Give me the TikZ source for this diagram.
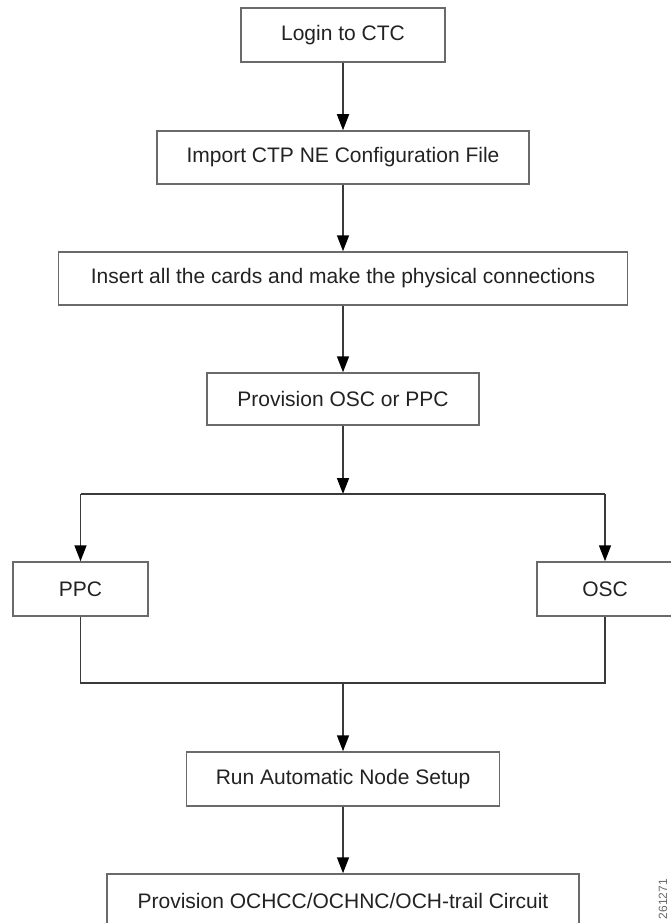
\documentclass[tikz,border=0pt]{standalone}
\usepackage{fontspec}
\setmainfont{Liberation Sans}
\usetikzlibrary{arrows.meta}

\definecolor{boxline}{HTML}{6A6A6A}
\definecolor{flowline}{HTML}{3A3A3A}
\definecolor{txt}{HTML}{222222}

\tikzstyle{box}=[draw=boxline,line width=1.5pt,rectangle,minimum height=54pt,text=txt,font=\fontsize{21}{25}\selectfont,inner sep=0pt]
\tikzstyle{ln}=[color=flowline,line width=1.6pt]
\tikzstyle{arr}=[ln,-{Triangle[length=16pt,width=12pt,color=black]}]

\begin{document}
\begin{tikzpicture}[x=1pt,y=-1pt]
  \useasboundingbox (0,0) rectangle (671,923);
  \clip (0,0) rectangle (671,923);

  \node[box,minimum width=204pt] (login) at (343,35) {Login to CTC};
  \node[box,minimum width=372pt,minimum height=53pt] (import) at (343,157.5) {Import CTP NE Configuration File};
  \node[box,minimum width=569pt,minimum height=53pt] (insert) at (343,278.5) {Insert all the cards and make the physical connections};
  \node[box,minimum width=272pt,minimum height=52pt] (prov) at (343,399) {Provision OSC or PPC};

  \coordinate (split) at (343,494);
  \node[box,minimum width=135pt] (ppc) at (80.5,589) {PPC};
  \node[box,minimum width=136pt] (osc) at (605,589) {OSC};
  \coordinate (merge) at (343,683);

  \node[box,minimum width=313pt] (run) at (343,779) {Run Automatic Node Setup};
  \node[box,minimum width=472pt] (circ) at (343,901) {Provision OCHCC/OCHNC/OCH-trail Circuit};

  \node[rotate=90,anchor=east,text=boxline,font=\fontsize{12}{14}\selectfont,inner sep=0pt] (fig) at (663,879) {261271};

  \path (login) edge [arr] (import);
  \path (import) edge [arr] (insert);
  \path (insert) edge [arr] (prov);
  \path (prov) edge [arr] (split);

  \draw[ln] (split -| ppc) -- (split -| osc);
  \path (split -| ppc) edge [arr] (ppc);
  \path (split -| osc) edge [arr] (osc);

  \draw[ln] (ppc) |- (merge);
  \draw[ln] (osc) |- (merge);
  \path (merge) edge [arr] (run);
  \path (run) edge [arr] (circ);

\end{tikzpicture}
\end{document}
